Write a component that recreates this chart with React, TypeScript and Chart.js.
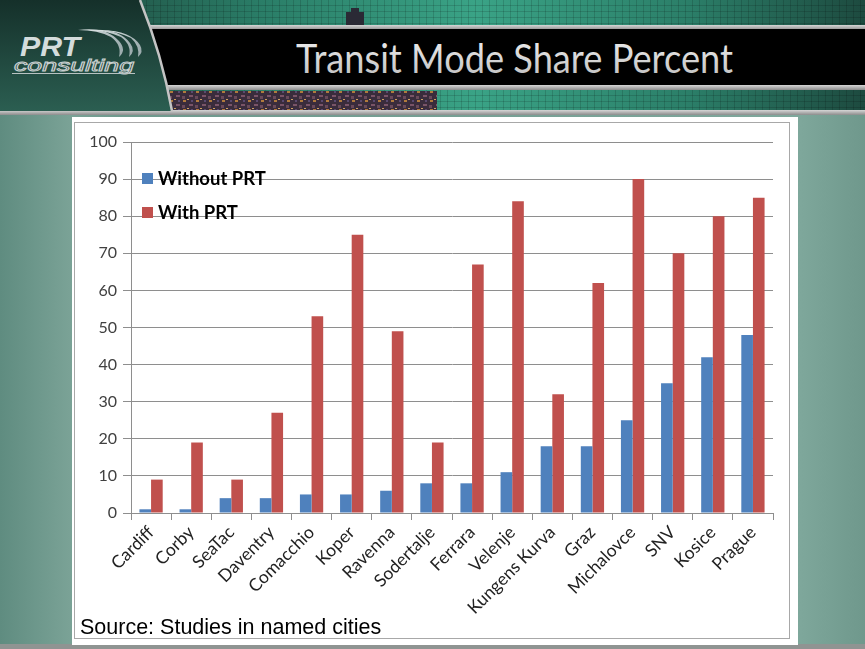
import React, { useEffect, useRef } from "react";
import { Chart, registerables } from "chart.js";

Chart.register(...registerables);

const titleText = "Transit Mode Share Percent";
const sourceText = "Source: Studies in named cities";
const categories = [
  "Cardiff", "Corby", "SeaTac", "Daventry", "Comacchio", "Koper", "Ravenna", "Sodertalje",
  "Ferrara", "Velenje", "Kungens Kurva", "Graz", "Michalovce", "SNV", "Kosice", "Prague",
];
const withoutPRT = [1, 1, 4, 4, 5, 5, 6, 8, 8, 11, 18, 18, 25, 35, 42, 48];
const withPRT = [9, 19, 9, 27, 53, 75, 49, 19, 67, 84, 32, 62, 90, 70, 80, 85];
const seriesNames = ["Without PRT", "With PRT"];
const seriesColors = ["#4F81BD", "#C0504D"];
const yMin = 0;
const yMax = 100;
const yStep = 10;

const GRID = "#8e8e8e";

function Header() {
  return (
    <svg width={865} height={116} style={{ position: "absolute", left: 0, top: 0 }}>
      <defs>
        <linearGradient id="strip" x1="0" y1="0" x2="1" y2="0">
          <stop offset="0" stopColor="#1c3b33" />
          <stop offset="0.3" stopColor="#2a7d67" />
          <stop offset="0.55" stopColor="#3aa386" />
          <stop offset="0.8" stopColor="#2b7e68" />
          <stop offset="1" stopColor="#1d4a3f" />
        </linearGradient>
        <pattern id="grid" width="7" height="6" patternUnits="userSpaceOnUse">
          <path d="M7 0 V6 M0 6 H7" stroke="rgba(0,0,0,0.28)" strokeWidth="1" />
        </pattern>
        <pattern id="lights" width="13" height="9" patternUnits="userSpaceOnUse">
          <rect width="13" height="9" fill="#3a2c3c" />
          <rect x="1" y="1" width="3" height="2" fill="#b07a3c" />
          <rect x="7" y="5" width="4" height="2" fill="#7a5468" />
          <rect x="5" y="0" width="2" height="1" fill="#d0a060" />
          <rect x="0" y="6" width="3" height="3" fill="#6a4a5a" />
          <rect x="9" y="1" width="2" height="2" fill="#5a4a70" />
        </pattern>
        <linearGradient id="panel" x1="0" y1="0" x2="0" y2="1">
          <stop offset="0" stopColor="#15302a" />
          <stop offset="1" stopColor="#2b5e51" />
        </linearGradient>
        <linearGradient id="bar" x1="0" y1="0" x2="0" y2="1">
          <stop offset="0" stopColor="#d6d6d6" />
          <stop offset="1" stopColor="#8c8c8c" />
        </linearGradient>
        <linearGradient id="titleFill" x1="0" y1="0" x2="0" y2="1">
          <stop offset="0" stopColor="#f2f2f2" />
          <stop offset="1" stopColor="#bdbdbd" />
        </linearGradient>
        <linearGradient id="swoosh" x1="0" y1="0" x2="1" y2="0">
          <stop offset="0" stopColor="#e8eeee" />
          <stop offset="1" stopColor="#9aaaac" />
        </linearGradient>
      </defs>
      <rect x="0" y="0" width="865" height="26" fill="url(#strip)" />
      <rect x="0" y="0" width="865" height="26" fill="url(#grid)" />
      <rect x="346" y="12" width="18" height="14" fill="#2a2a35" />
      <rect x="351" y="8" width="8" height="5" fill="#2a2a35" />
      <rect x="0" y="25" width="865" height="5" fill="url(#bar)" />
      <rect x="0" y="29" width="865" height="57" fill="#000" />
      <rect x="0" y="85" width="865" height="5" fill="url(#bar)" />
      <rect x="0" y="90" width="865" height="21" fill="url(#strip)" />
      <rect x="0" y="90" width="865" height="21" fill="url(#grid)" />
      <rect x="148" y="91" width="289" height="19" fill="url(#lights)" />
      <rect x="0" y="110" width="865" height="5" fill="url(#bar)" />
      <path d="M0 0 H140 Q162 55 172 111 H0 Z" fill="url(#panel)" />
      <path d="M140 0 Q162 55 172 111" stroke="#c4c4c4" strokeWidth="2.5" fill="none" />
      <text x="20" y="56" fontFamily="Liberation Sans" fontWeight="bold" fontStyle="italic"
        fontSize="28" fill="#d4dcdc" textLength="60" lengthAdjust="spacingAndGlyphs">PRT</text>
      <path d="M78 30 Q106 26 119 41 Q127 50 119 57 Q122 45 111 37 Q98 30 78 30 Z" fill="url(#swoosh)" />
      <path d="M90 30 Q119 28 130 43 Q136 51 129 57 Q132 45 121 37 Q108 31 90 30 Z" fill="url(#swoosh)" />
      <path d="M102 30 Q131 31 140 45 Q144 52 138 57 Q140 46 131 38 Q119 32 102 30 Z" fill="url(#swoosh)" />
      <text x="14" y="71" fontFamily="Liberation Sans" fontStyle="italic" fontSize="17"
        fill="#27443d" stroke="#c8d0d0" strokeWidth="0.9" textLength="120" lengthAdjust="spacingAndGlyphs">consulting</text>
      <path d="M12 73.5 H135" stroke="#b8c2c2" strokeWidth="1.2" />
      <text x="296" y="73" fontFamily="Lato" fontSize="41" fill="url(#titleFill)"
        textLength="437" lengthAdjust="spacingAndGlyphs">{titleText}</text>
    </svg>
  );
}

export default function App() {
  const canvasRef = useRef<HTMLCanvasElement | null>(null);

  useEffect(() => {
    if (!canvasRef.current) return;
    const chart = new Chart(canvasRef.current, {
      type: "bar",
      data: {
        labels: categories,
        datasets: [
          { label: seriesNames[0], data: withoutPRT, backgroundColor: seriesColors[0], borderWidth: 0 },
          { label: seriesNames[1], data: withPRT, backgroundColor: seriesColors[1], borderWidth: 0 },
        ],
      },
      options: {
        responsive: false,
        animation: false,
        layout: { padding: { top: 25, right: 25, left: 0, bottom: 0 } },
        datasets: { bar: { categoryPercentage: 0.58, barPercentage: 1 } },
        plugins: { legend: { display: false }, tooltip: { enabled: false } },
        scales: {
          x: {
            grid: { offset: true, drawOnChartArea: false, color: GRID, tickLength: 7 },
            border: { display: true, color: GRID },
            ticks: {
              autoSkip: false,
              maxRotation: 45,
              minRotation: 45,
              color: "#222",
              padding: 2,
              font: { family: "Lato", size: 17.5 },
            },
            afterFit: (s: any) => { s.height = 132; },
          },
          y: {
            min: yMin,
            max: yMax,
            ticks: { stepSize: yStep, color: "#404040", padding: 6, font: { family: "Lato", size: 16 } },
            grid: { color: GRID, tickLength: 8 },
            border: { display: true, color: GRID },
            afterFit: (s: any) => { s.width = 59; },
          },
        },
      },
    });
    return () => chart.destroy();
  }, []);

  return (
    <div style={{
      position: "absolute", left: 0, top: 0, width: 865, height: 649, overflow: "hidden",
      background: "linear-gradient(to right, #5f8c80 0%, #7aa296 8%, #6e998d 14%, #7ca499 80%, #7fa89c 92%, #6f988c 100%)",
    }}>
      <Header />
      <div style={{ position: "absolute", left: 0, top: 644, width: 865, height: 5, background: "#8f9492" }} />
      <div style={{ position: "absolute", left: 72, top: 117, width: 726, height: 528, background: "#fff" }} />
      <div style={{ position: "absolute", left: 74, top: 122, width: 714, height: 515, border: "1px solid #a8a8a8" }} />
      <canvas ref={canvasRef} width={726} height={528} style={{ position: "absolute", left: 72, top: 117, width: 726, height: 528 }} />
      {seriesNames.map((name, i) => (
        <div key={name} style={{
          position: "absolute", left: 142, top: 167 + i * 34, height: 22, display: "flex", alignItems: "center",
          fontFamily: "Lato", fontWeight: "bold", fontSize: 18.5, color: "#000", whiteSpace: "nowrap",
        }}>
          <span style={{ display: "inline-block", width: 11, height: 11, background: seriesColors[i], marginRight: 5 }} />
          {name}
        </div>
      ))}
      <div style={{
        position: "absolute", left: 80, top: 615, fontFamily: "Liberation Sans", fontSize: 21.5, color: "#000",
        whiteSpace: "nowrap", lineHeight: "24px",
      }}>{sourceText}</div>
    </div>
  );
}
